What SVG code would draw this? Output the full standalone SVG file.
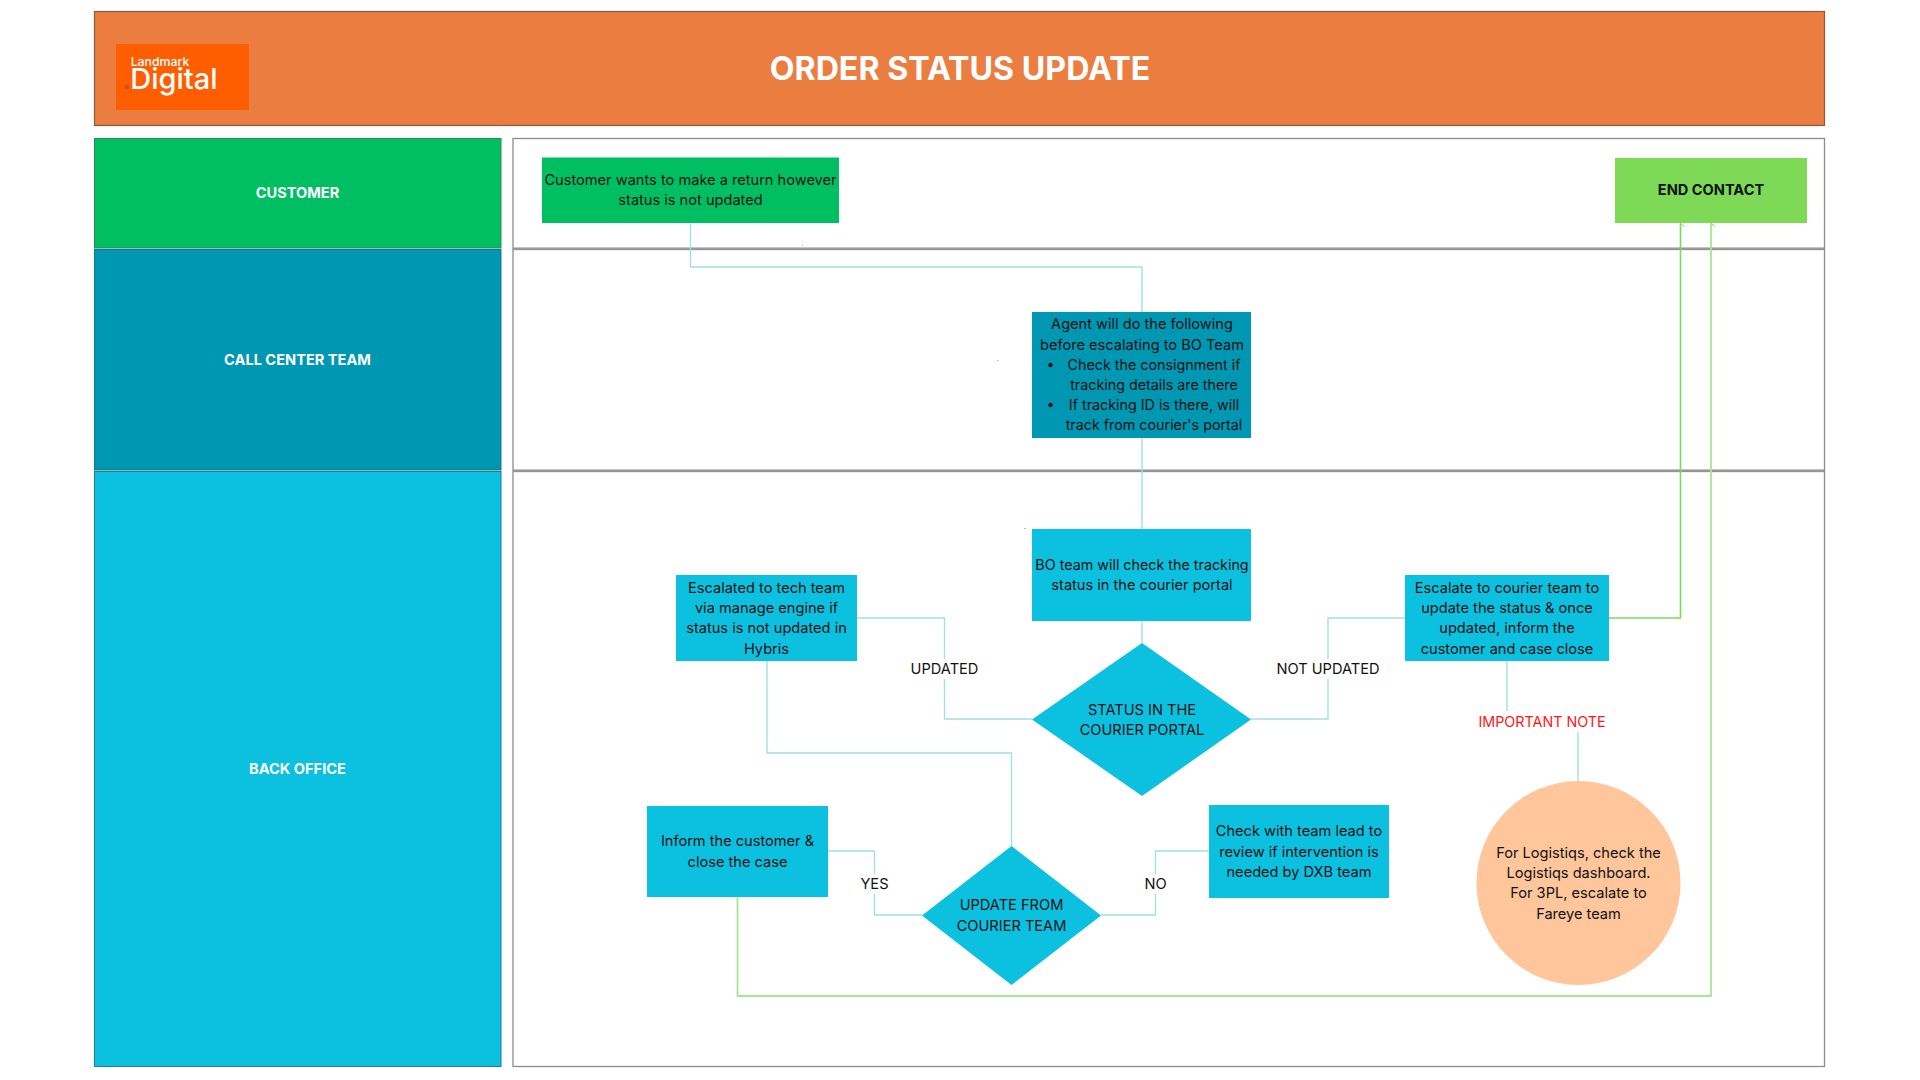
<svg xmlns="http://www.w3.org/2000/svg" width="1920" height="1080" viewBox="0 0 1920 1080">
<style>
text{font-family:Inter,"Liberation Sans",sans-serif;font-size:14.6px;fill:#111;text-anchor:middle}
.w{fill:#fff;font-weight:700}
.b{font-weight:700}
.s{font-size:14.3px}
.panel{fill:#fff;stroke:#8c8c8c;stroke-width:1.3}
.c{fill:none;stroke:#a3dfe8;stroke-width:1.4;stroke-linejoin:round}
.g{fill:none;stroke:#a6e68f;stroke-width:1.8;stroke-linejoin:round}
.g2{fill:none;stroke:#7ed957;stroke-width:1.6;stroke-linejoin:round}
.cy{fill:#0cc0df}
.speck{fill:#b5b5b5}
</style>
<defs>
<marker id="ag" markerWidth="8" markerHeight="6" refX="4" refY="0.5" orient="auto-start-reverse" markerUnits="userSpaceOnUse" viewBox="0 0 8 6"><path d="M4 0L7.5 4.5M4 0L.5 4.5" fill="none" stroke="#7ed957" stroke-width="1"/></marker>
</defs>
<rect width="1920" height="1080" fill="#fff"/>
<g id="header">
<rect x="94.500" y="11.500" width="1730" height="114" fill="#eb7d40" stroke="#8a5a3c" stroke-width="1.200"/>
<rect x="116" y="44" width="133" height="66" fill="#ff5e00"/>
<text x="160" y="65.500" style="font-size:12.300px;font-weight:500;fill:#fff">Landmark</text>
<text x="174" y="89" style="font-size:29px;font-weight:500;fill:#fff">Digital</text>
<rect x="125" y="85" width="4" height="4" fill="#c9501a"/>
<text x="960" y="80" class="w" style="font-size:32.200px">ORDER STATUS UPDATE</text>
</g>
<g id="lanes">
<rect class="panel" x="513" y="138.500" width="1311.500" height="110"/>
<rect class="panel" x="513" y="249.500" width="1311.500" height="221"/>
<rect class="panel" x="513" y="471.500" width="1311.500" height="595"/>
<path d="M513 248.500H1824.500M513 470.500H1824.500" stroke="#999" stroke-width="2"/>
</g>
<g id="lane-customer"><rect x="94.500" y="138.500" width="406.500" height="109.500" fill="#00bf63" stroke="#2a8a5a"/><text x="297.500" y="198" class="w">CUSTOMER</text></g>
<g id="lane-callcenter"><rect x="94.500" y="249.500" width="406.500" height="220.500" fill="#0097b2" stroke="#1f7286"/><text x="297.500" y="365" class="w">CALL CENTER TEAM</text></g>
<g id="lane-backoffice"><rect x="94.500" y="471.500" width="406.500" height="595" fill="#0cc0df" stroke="#1f7f90"/><text x="297.500" y="774" class="w">BACK OFFICE</text></g>
<g id="connectors">
<path class="c" d="M690.500 223V267H1142V312"/>
<path class="c" d="M1142 438V529"/>
<path class="c" d="M1142 621V643"/>
<path class="c" d="M1032 719H944.500V618H857"/>
<path class="c" d="M1251 719H1328V618H1405"/>
<path class="c" d="M767 661V753H1011.500V846"/>
<path class="c" d="M922 915H874.500V851H828"/>
<path class="c" d="M1101 915H1155.500V851H1209"/>
<path class="c" d="M1507 661V711"/>
<path class="c" d="M1578 732V782"/>
<path class="g2" d="M1609 618H1680.500V223" marker-end="url(#ag)"/>
<path class="g" d="M737.500 897V996H1711V223" marker-end="url(#ag)"/>
</g>
<g id="n-customer"><rect x="542" y="157.500" width="297" height="65.500" fill="#00bf63"/><text x="690.500" y="185">Customer wants to make a return however</text><text x="690.500" y="205">status is not updated</text></g>
<g id="n-end"><rect x="1615" y="158" width="192" height="65" fill="#7ed957"/><text x="1711" y="195" class="b">END CONTACT</text></g>
<g id="n-agent"><rect x="1032" y="312" width="219" height="126" fill="#0097b2"/>
<text x="1142" y="329">Agent will do the following</text>
<text x="1142" y="350">before escalating to BO Team</text>
<text x="1154" y="370" class="s">Check the consignment if</text>
<text x="1154" y="390" class="s">tracking details are there</text>
<text x="1154" y="410" class="s">If tracking ID is there, will</text>
<text x="1154" y="430" class="s">track from courier's portal</text>
<circle cx="1050.500" cy="365" r="2.200" fill="#111"/><circle cx="1050.500" cy="405" r="2.200" fill="#111"/>
</g>
<g id="n-bo"><rect x="1032" y="529" width="219" height="92" class="cy"/><text x="1142" y="570" class="s">BO team will check the tracking</text><text x="1142" y="590">status in the courier portal</text></g>
<g id="n-status"><path d="M1142 643L1251 719.500L1142 796L1032 719.500Z" class="cy"/><text x="1142" y="715">STATUS IN THE</text><text x="1142" y="735">COURIER PORTAL</text></g>
<g id="n-escalate-courier"><rect x="1405" y="575" width="204" height="86" class="cy"/><text x="1507" y="593">Escalate to courier team to</text><text x="1507" y="613">update the status &amp; once</text><text x="1507" y="633">updated, inform the</text><text x="1507" y="654">customer and case close</text></g>
<g id="n-escalated-tech"><rect x="676" y="575" width="181" height="86" class="cy"/><text x="766.500" y="593">Escalated to tech team</text><text x="766.500" y="613">via manage engine if</text><text x="766.500" y="633">status is not updated in</text><text x="766.500" y="654">Hybris</text></g>
<g id="n-update"><path d="M1011.500 846L1101 915.500L1011.500 985L922 915.500Z" class="cy"/><text x="1011.500" y="910">UPDATE FROM</text><text x="1011.500" y="931">COURIER TEAM</text></g>
<g id="n-inform"><rect x="647" y="806" width="181" height="91" class="cy"/><text x="737.500" y="846">Inform the customer &amp;</text><text x="737.500" y="867">close the case</text></g>
<g id="n-check"><rect x="1209" y="805" width="180" height="93" class="cy"/><text x="1299" y="836">Check with team lead to</text><text x="1299" y="857">review if intervention is</text><text x="1299" y="877">needed by DXB team</text></g>
<g id="n-note"><circle cx="1578.500" cy="883" r="102" fill="#ffc59b"/><text x="1578.500" y="858">For Logistiqs, check the</text><text x="1578.500" y="878">Logistiqs dashboard.</text><text x="1578.500" y="898">For 3PL, escalate to</text><text x="1578.500" y="919">Fareye team</text></g>
<g id="labels">
<rect x="908" y="659" width="73" height="20" fill="#fff"/><text x="944.500" y="674">UPDATED</text>
<rect x="1274" y="659" width="108" height="20" fill="#fff"/><text x="1328" y="674">NOT UPDATED</text>
<rect x="858" y="874" width="33" height="20" fill="#fff"/><text x="874.500" y="889">YES</text>
<rect x="1143" y="874" width="25" height="20" fill="#fff"/><text x="1155.500" y="889">NO</text>
<text x="1542" y="727" class="s" style="fill:#ff1616">IMPORTANT NOTE</text>
</g>
<g id="specks">
<rect class="speck" x="802" y="245" width="1" height="1"/>
<rect class="speck" x="997" y="360" width="1.500" height="1"/>
<rect class="speck" x="1024" y="528" width="2" height="1"/>
</g>
</svg>
